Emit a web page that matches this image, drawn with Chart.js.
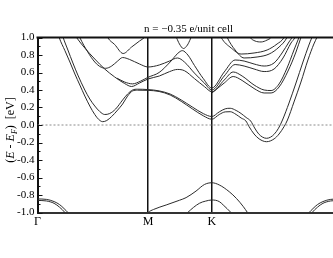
<!DOCTYPE html>
<html>
<head>
<meta charset="utf-8">
<script src="https://cdn.jsdelivr.net/npm/chart.js@4.4.1/dist/chart.umd.min.js"></script>
<style>
  html, body { margin: 0; padding: 0; background: #fff; overflow: hidden; }
  #wrap { width: 345px; height: 258px; }
</style>
</head>
<body>
<div id="wrap"><canvas id="bands"></canvas></div>
<script>
'use strict';

// k-path: Gamma - M - K - Gamma (in units of |Gamma-M|)
var kTicks = [0, 1, 1.577, 2.732];
var kLabels = ['Γ', 'M', 'K', 'Γ'];
var eMin = -1.0;
var eMax = 1.0;
var eStep = 0.2;
var minorStep = 0.1;
var titleText = 'n = −0.35 e/unit cell';

// bands, [k, E - E_F] pairs
var bandA = [[0.212, 1.086], [0.232, 1.0], [0.275, 0.857], [0.32, 0.709], [0.365, 0.571], [0.428, 0.4], [0.473, 0.297], [0.518, 0.217], [0.563, 0.154], [0.608, 0.12], [0.653, 0.131], [0.707, 0.183], [0.77, 0.286], [0.815, 0.354], [0.86, 0.4], [0.905, 0.409], [1.0, 0.405],
  [1.1, 0.39], [1.2, 0.354], [1.3, 0.286], [1.4, 0.206], [1.5, 0.13], [1.577, 0.097],
  [1.644, 0.15], [1.698, 0.185], [1.743, 0.191], [1.797, 0.166], [1.842, 0.131], [1.887, 0.086], [1.928, 0.046], [1.964, -0.034], [2.0, -0.101], [2.036, -0.139], [2.072, -0.152], [2.108, -0.139], [2.144, -0.101], [2.18, -0.037], [2.216, 0.057], [2.275, 0.251], [2.338, 0.48], [2.401, 0.72], [2.455, 0.914], [2.482, 1.0], [2.509, 1.086]];
var bandB = [[0.176, 1.086], [0.196, 1.0], [0.248, 0.85], [0.293, 0.72], [0.338, 0.583], [0.383, 0.457], [0.428, 0.331], [0.473, 0.217], [0.518, 0.12], [0.554, 0.063], [0.59, 0.038], [0.626, 0.051], [0.671, 0.097], [0.725, 0.171], [0.77, 0.24], [0.815, 0.331], [0.86, 0.389], [0.905, 0.398], [1.0, 0.396],
  [1.1, 0.383], [1.2, 0.343], [1.3, 0.27], [1.4, 0.185], [1.5, 0.105], [1.577, 0.066],
  [1.644, 0.12], [1.698, 0.15], [1.743, 0.152], [1.797, 0.12], [1.842, 0.08], [1.885, 0.046], [1.914, -0.019], [1.959, -0.103], [2.005, -0.159], [2.072, -0.191], [2.14, -0.159], [2.185, -0.103], [2.23, -0.019], [2.261, 0.057], [2.32, 0.263], [2.383, 0.491], [2.446, 0.743], [2.5, 0.926], [2.527, 1.0], [2.554, 1.086]];
var bandC = [[0.356, 1.086], [0.383, 1.0], [0.455, 0.834], [0.518, 0.72], [0.563, 0.669], [0.617, 0.648], [0.671, 0.674], [0.725, 0.731], [0.77, 0.771], [0.833, 0.749], [0.923, 0.697], [1.0, 0.663],
  [1.102, 0.686], [1.194, 0.731], [1.266, 0.766], [1.329, 0.72], [1.419, 0.594], [1.509, 0.48], [1.577, 0.4],
  [1.689, 0.56], [1.788, 0.691], [1.869, 0.674], [1.959, 0.64], [2.05, 0.611], [2.14, 0.64], [2.221, 0.766], [2.293, 0.937], [2.329, 1.0], [2.356, 1.086]];
var bandD = [[0.311, 1.086], [0.353, 1.0], [0.428, 0.88], [0.518, 0.754], [0.608, 0.64], [0.698, 0.549], [0.788, 0.474], [0.851, 0.44], [0.923, 0.48], [1.0, 0.526],
  [1.102, 0.56], [1.194, 0.61], [1.266, 0.635], [1.33, 0.62], [1.42, 0.53], [1.509, 0.44], [1.577, 0.38],
  [1.689, 0.514], [1.77, 0.606], [1.851, 0.56], [1.959, 0.457], [2.05, 0.4], [2.113, 0.394], [2.185, 0.469], [2.257, 0.651], [2.32, 0.857], [2.365, 1.0], [2.392, 1.086]];
var bandE = [[0.72, 0.535], [0.79, 0.49], [0.86, 0.47], [0.93, 0.5], [1.0, 0.545], [1.1, 0.6], [1.2, 0.72], [1.27, 0.82], [1.31, 0.85], [1.36, 0.8], [1.42, 0.68], [1.5, 0.53], [1.577, 0.423],
  [1.689, 0.606], [1.788, 0.743], [1.869, 0.731], [1.959, 0.697], [2.05, 0.674], [2.14, 0.709], [2.212, 0.823], [2.275, 0.949], [2.302, 1.0], [2.329, 1.086]];
var bandF = [[1.577, 0.365], [1.689, 0.48], [1.77, 0.554], [1.851, 0.509], [1.959, 0.417], [2.05, 0.366], [2.113, 0.366], [2.185, 0.434], [2.266, 0.617], [2.338, 0.834], [2.383, 1.0], [2.41, 1.086]];
var bandV = [[0.608, 1.086], [0.635, 1.0], [0.698, 0.92], [0.775, 0.817], [0.851, 0.891], [0.923, 0.96], [0.968, 1.0], [1.005, 1.05]];
var bandLoopMK = [[1.23, 1.086], [1.257, 1.0], [1.284, 0.926], [1.32, 0.874], [1.356, 0.914], [1.383, 0.983], [1.401, 1.04]];
var bandT1 = [[1.635, 1.086], [1.662, 1.0], [1.752, 0.88], [1.842, 0.811], [1.959, 0.823], [2.077, 0.857], [2.167, 0.926], [2.23, 1.0], [2.257, 1.086]];
var bandT2 = [[1.689, 1.086], [1.716, 1.0], [1.788, 0.857], [1.869, 0.766], [1.986, 0.777], [2.095, 0.811], [2.185, 0.891], [2.257, 1.0], [2.284, 1.086]];
var bandT3 = [[1.887, 1.086], [1.923, 1.0], [1.968, 0.96], [2.023, 0.949], [2.077, 0.971], [2.113, 1.0], [2.14, 1.063]];
var bandG1 = [[0, -0.845], [0.08, -0.85], [0.15, -0.875], [0.2, -0.91], [0.24, -0.955], [0.275, -1.0], [0.3, -1.04]];
var bandG2 = [[0, -0.862], [0.08, -0.868], [0.15, -0.895], [0.2, -0.94], [0.248, -1.0], [0.27, -1.04]];
var bandG3 = [[2.432, -1.04], [2.457, -1.0], [2.492, -0.955], [2.532, -0.91], [2.582, -0.875], [2.652, -0.85], [2.732, -0.845]];
var bandG4 = [[2.462, -1.04], [2.484, -1.0], [2.532, -0.94], [2.582, -0.895], [2.652, -0.868], [2.732, -0.862]];
var bandL1 = [[0.98, -1.03], [1.0, -1.0], [1.05, -0.965], [1.164, -0.914], [1.284, -0.86], [1.344, -0.83], [1.434, -0.755], [1.51, -0.68], [1.577, -0.66], [1.644, -0.685], [1.734, -0.762], [1.8, -0.84], [1.86, -0.93], [1.899, -1.0], [1.92, -1.04]];
var bandL2 = [[1.33, -1.04], [1.359, -1.0], [1.464, -0.895], [1.52, -0.87], [1.577, -0.857], [1.644, -0.875], [1.68, -0.914], [1.75, -1.0], [1.78, -1.04]];
var fermiLevel = [[0, 0], [2.732, 0]];

var allBands = [bandA, bandB, bandC, bandD, bandE, bandF, bandV, bandLoopMK, bandT1, bandT2, bandT3,
  bandG1, bandG2, bandG3, bandG4, bandL1, bandL2];

function toPoints(arr) {
  return arr.map(function (p) { return { x: p[0], y: p[1] }; });
}

var datasets = [{
  data: toPoints(fermiLevel),
  borderColor: '#8a8a8a',
  borderWidth: 1,
  borderDash: [2, 2],
  pointRadius: 0,
  showLine: true,
  tension: 0
}];
for (var i = 0; i < allBands.length; i++) {
  datasets.push({
    data: toPoints(allBands[i]),
    borderColor: '#2b2b2b',
    borderWidth: 1,
    pointRadius: 0,
    showLine: true,
    cubicInterpolationMode: 'monotone'
  });
}

var serif = 'Liberation Serif';

// inward ticks, top frame and the energy axis title
var bandFrame = {
  id: 'bandFrame',
  afterDraw: function (chart) {
    var ctx = chart.ctx;
    var area = chart.chartArea;
    var yScale = chart.scales.y;
    ctx.save();
    ctx.strokeStyle = '#111';
    ctx.lineWidth = 1;
    var n = Math.round((eMax - eMin) / minorStep);
    for (var i = 0; i <= n; i++) {
      var py = Math.round(yScale.getPixelForValue(eMin + i * minorStep)) + 0.5;
      var len = (i % 2 === 0) ? 5 : 3;
      ctx.beginPath();
      ctx.moveTo(area.left, py);
      ctx.lineTo(area.left + len, py);
      ctx.stroke();
    }
    ctx.lineWidth = 2;
    ctx.beginPath();
    ctx.moveTo(area.left - 1, area.top);
    ctx.lineTo(area.right, area.top);
    ctx.stroke();

    var parts = [
      ['(', 'normal 12px ', 0], ['E', 'italic 12px ', 0], [' - ', 'normal 12px ', 0],
      ['E', 'italic 12px ', 0], ['F', 'italic 8px ', 3], [')', 'normal 12px ', 0],
      ['  [eV]', 'normal 12px ', 0]
    ];
    var total = 0;
    parts.forEach(function (p) {
      ctx.font = p[1] + '"' + serif + '"';
      total += ctx.measureText(p[0]).width;
    });
    ctx.translate(10, (area.top + area.bottom) / 2 + 5);
    ctx.rotate(-Math.PI / 2);
    ctx.fillStyle = '#000';
    ctx.textBaseline = 'alphabetic';
    var x = -total / 2;
    parts.forEach(function (p) {
      ctx.font = p[1] + '"' + serif + '"';
      ctx.fillText(p[0], x, 4 + p[2]);
      x += ctx.measureText(p[0]).width;
    });
    ctx.restore();
  }
};

var ctx = document.getElementById('bands').getContext('2d');
var bandChart = new Chart(ctx, {
  type: 'scatter',
  data: { datasets: datasets },
  plugins: [bandFrame],
  options: {
    responsive: true,
    maintainAspectRatio: false,
    animation: false,
    events: [],
    layout: { padding: { left: 0, right: 4, top: 0, bottom: 0 } },
    plugins: {
      legend: { display: false },
      tooltip: { enabled: false },
      title: {
        display: true,
        text: titleText,
        fullSize: false,
        color: '#000',
        font: { family: serif, size: 11, weight: 'normal' },
        padding: { top: 23, bottom: 1.3 }
      }
    },
    scales: {
      x: {
        type: 'linear',
        min: kTicks[0],
        max: kTicks[kTicks.length - 1],
        afterBuildTicks: function (scale) {
          scale.ticks = kTicks.map(function (v) { return { value: v }; });
        },
        afterFit: function (scale) { scale.height = 45.5; },
        ticks: {
          autoSkip: false,
          maxRotation: 0,
          padding: 2,
          color: '#000',
          font: { family: serif, size: 12 },
          callback: function (value, index) { return kLabels[index]; }
        },
        grid: {
          drawTicks: false,
          lineWidth: 1.5,
          color: function (c) {
            return (c.index > 0 && c.index < kTicks.length - 1) ? '#111' : 'rgba(0,0,0,0)';
          }
        },
        border: { display: true, color: '#333', width: 2 }
      },
      y: {
        min: eMin,
        max: eMax,
        afterFit: function (scale) { scale.width = 37.5; },
        ticks: {
          stepSize: eStep,
          padding: 3,
          color: '#000',
          font: { family: serif, size: 11 },
          callback: function (value) { return value.toFixed(1); }
        },
        grid: { display: false, drawTicks: false },
        border: { display: true, color: '#111', width: 2 }
      }
    }
  }
});
</script>
</body>
</html>
